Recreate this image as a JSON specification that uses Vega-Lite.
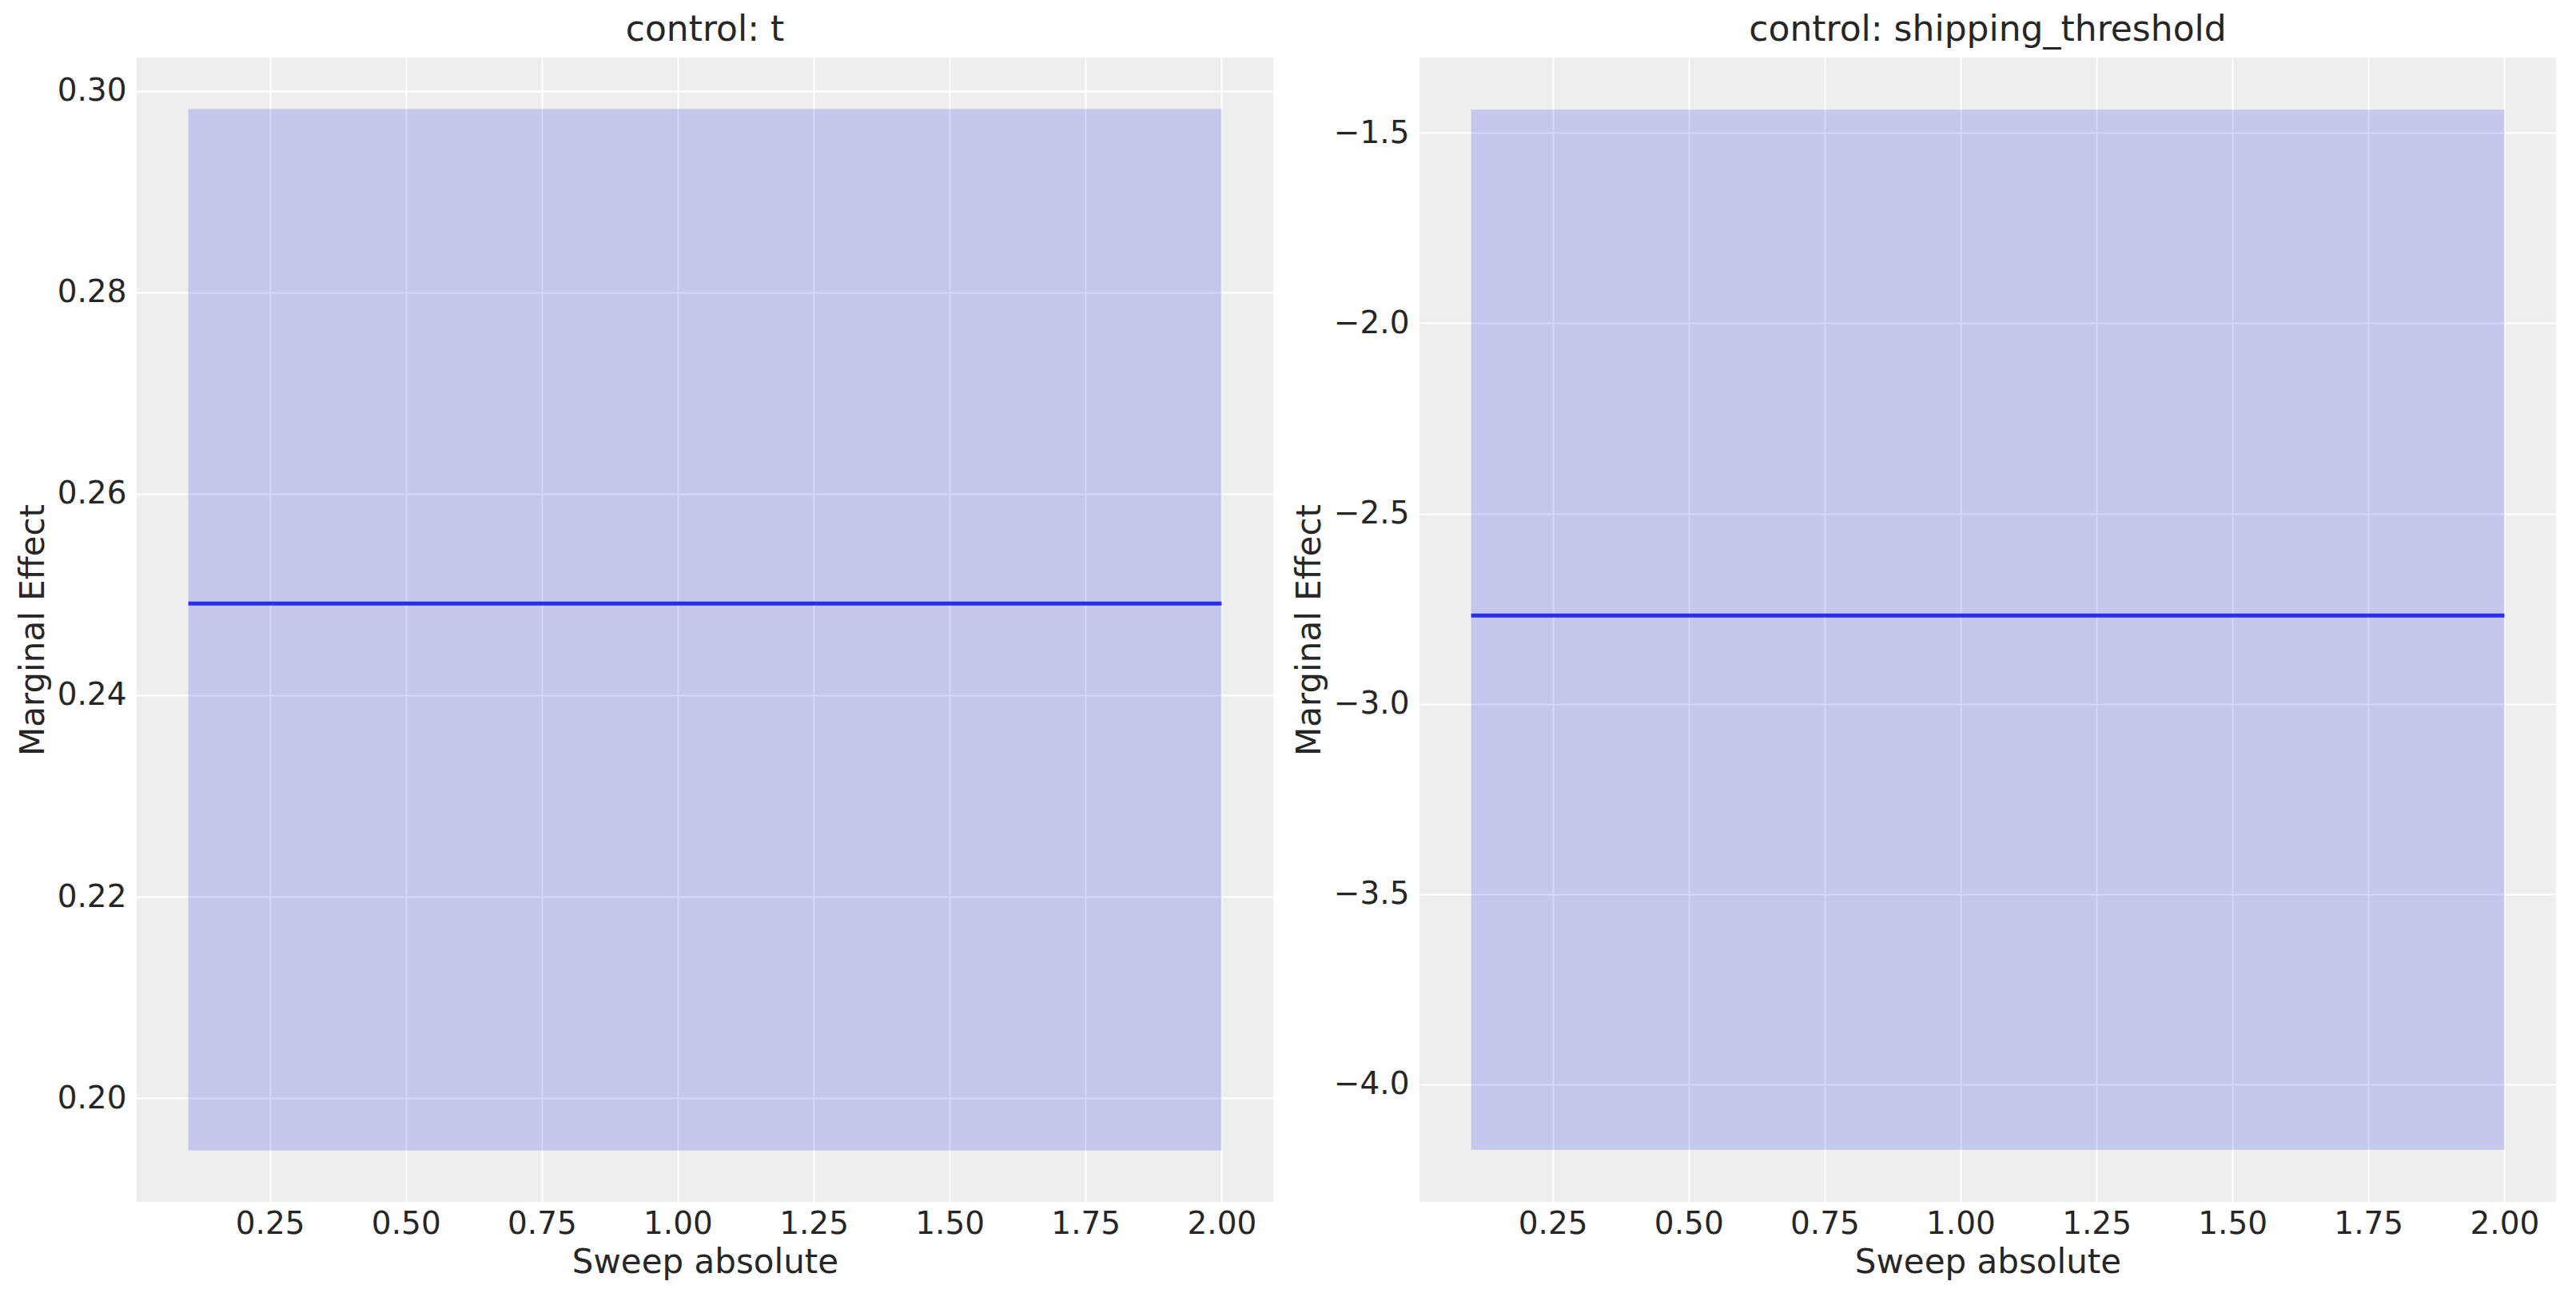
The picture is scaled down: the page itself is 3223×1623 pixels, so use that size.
{
  "$schema": "https://vega.github.io/schema/vega-lite/v6.json",
  "background": "white",
  "padding": {"left": 20, "top": 16, "right": 5, "bottom": 12},
  "datasets": {
    "t": [
      {"sweep": 0.1, "mean": 0.2491, "lower": 0.1948, "upper": 0.2982},
      {"sweep": 2.0, "mean": 0.2491, "lower": 0.1948, "upper": 0.2982}
    ],
    "shipping": [
      {"sweep": 0.1, "mean": -2.768, "lower": -4.172, "upper": -1.439},
      {"sweep": 2.0, "mean": -2.768, "lower": -4.172, "upper": -1.439}
    ]
  },
  "spacing": 24,
  "hconcat": [
    {
      "title": "control: t",
      "width": 1422,
      "height": 1432,
      "data": {"name": "t"},
      "encoding": {
        "x": {
          "field": "sweep",
          "type": "quantitative",
          "title": "Sweep absolute",
          "scale": {"domain": [0.005, 2.095], "nice": false, "zero": false},
          "axis": {"values": [0.25, 0.5, 0.75, 1.0, 1.25, 1.5, 1.75, 2.0], "format": ".2f"}
        }
      },
      "layer": [
        {
          "mark": {"type": "area", "color": "#2a2eec", "opacity": 0.2},
          "encoding": {
            "y": {
              "field": "lower",
              "type": "quantitative",
              "title": "Marginal Effect",
              "scale": {"domain": [0.1897, 0.3033], "nice": false, "zero": false},
              "axis": {"values": [0.2, 0.22, 0.24, 0.26, 0.28, 0.3], "format": ".2f"}
            },
            "y2": {"field": "upper"}
          }
        },
        {
          "mark": {"type": "line", "color": "#2a2eec", "strokeWidth": 5},
          "encoding": {"y": {"field": "mean", "type": "quantitative"}}
        }
      ]
    },
    {
      "title": "control: shipping_threshold",
      "width": 1422,
      "height": 1432,
      "data": {"name": "shipping"},
      "encoding": {
        "x": {
          "field": "sweep",
          "type": "quantitative",
          "title": "Sweep absolute",
          "scale": {"domain": [0.005, 2.095], "nice": false, "zero": false},
          "axis": {"values": [0.25, 0.5, 0.75, 1.0, 1.25, 1.5, 1.75, 2.0], "format": ".2f"}
        }
      },
      "layer": [
        {
          "mark": {"type": "area", "color": "#2a2eec", "opacity": 0.2},
          "encoding": {
            "y": {
              "field": "lower",
              "type": "quantitative",
              "title": "Marginal Effect",
              "scale": {"domain": [-4.309, -1.302], "nice": false, "zero": false},
              "axis": {"values": [-4.0, -3.5, -3.0, -2.5, -2.0, -1.5], "format": ".1f"}
            },
            "y2": {"field": "upper"}
          }
        },
        {
          "mark": {"type": "line", "color": "#2a2eec", "strokeWidth": 5},
          "encoding": {"y": {"field": "mean", "type": "quantitative"}}
        }
      ]
    }
  ],
  "config": {
    "view": {"fill": "#eeeeee", "stroke": null},
    "axis": {
      "domain": false,
      "ticks": false,
      "grid": true,
      "gridColor": "#ffffff",
      "gridWidth": 2,
      "gridOpacity": 1,
      "labelFont": "DejaVu Sans",
      "labelFontSize": 39,
      "labelColor": "#262626",
      "titleFont": "DejaVu Sans",
      "titleFontSize": 42,
      "titleFontWeight": "normal",
      "titleColor": "#262626"
    },
    "axisX": {"labelPadding": 8, "titlePadding": 8},
    "axisY": {"labelPadding": 13, "titlePadding": 8},
    "title": {
      "font": "DejaVu Sans",
      "fontSize": 44,
      "fontWeight": "normal",
      "color": "#262626",
      "offset": 12
    }
  }
}
